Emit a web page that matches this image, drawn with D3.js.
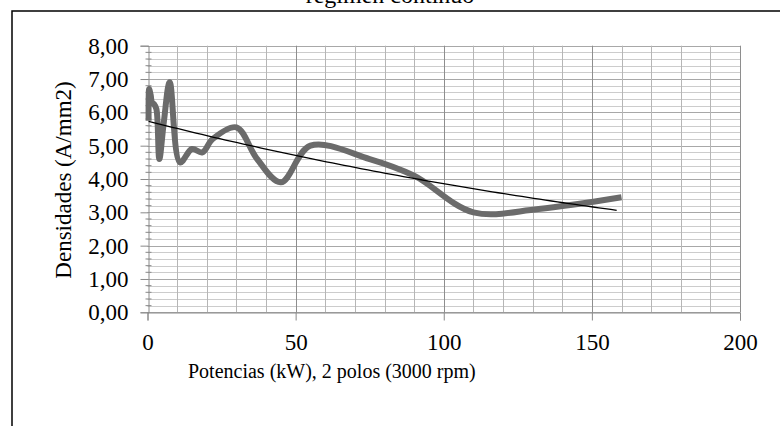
<!DOCTYPE html>
<html>
<head>
<meta charset="utf-8">
<script src="https://cdn.jsdelivr.net/npm/d3@7"></script>
<style>
  body { margin: 0; background: #fff; }
  svg { display: block; font-family: "Liberation Serif", "Times New Roman", serif; }
</style>
</head>
<body>
<svg width="780" height="426"></svg>
<script>
const width = 780, height = 426;
const svg = d3.select("svg");

// data (kW, A/mm2)
const powers = [0.37, 0.55, 0.75, 1.1, 1.5, 2.2, 3, 4, 5.5, 7.5, 11, 15, 18.5, 22, 30, 37, 45, 55, 75, 90, 110, 132, 160];
const densities = [5.75, 6.7, 6.65, 6.5, 6.3, 6.25, 6.1, 4.6, 5.7, 6.9, 4.5, 4.9, 4.8, 5.2, 5.55, 4.6, 3.9, 5.0, 4.6, 4.1, 3.0, 3.1, 3.45];
const xTicks = [0, 50, 100, 150, 200];
const yTicks = [0, 1, 2, 3, 4, 5, 6, 7, 8];
// exponential trendline y = a * e^(k x)
const trendA = 5.74, trendK = -0.00397;

const x = d3.scaleLinear().domain([0, 200]).range([147.5, 740]);
const y = d3.scaleLinear().domain([0, 8]).range([312.3, 45.7]);
const fmt = d => d3.format(".2f")(d).replace(".", ",");

// outer frame (runs off the page on right/bottom)
svg.append("rect").attr("x", 12).attr("y", 11).attr("width", 800).attr("height", 450)
  .attr("fill", "none").attr("stroke", "#000").attr("stroke-width", 1.5);

// title, cut off at top
svg.append("text").attr("x", 390).attr("y", 3).attr("text-anchor", "middle")
  .attr("font-size", 24).text("régimen continuo");

// grid
const grid = svg.append("g");
grid.selectAll(".hmin").data(d3.range(0, 8.01, 0.2).map(d => +d.toFixed(1)))
  .enter().append("line")
  .attr("x1", x(0)).attr("x2", x(200))
  .attr("y1", d => Math.round(y(d)) + 0.5).attr("y2", d => Math.round(y(d)) + 0.5)
  .attr("stroke", d => Number.isInteger(d) ? "#a8a8a8" : "#cccccc").attr("stroke-width", 1);
grid.selectAll(".vmin").data(d3.range(10, 201, 10))
  .enter().append("line")
  .attr("y1", y(0)).attr("y2", y(8))
  .attr("x1", d => Math.round(x(d)) + 0.5).attr("x2", d => Math.round(x(d)) + 0.5)
  .attr("stroke", d => d % 50 === 0 ? "#8e8e8e" : "#b6b6b6").attr("stroke-width", 1);

// y axis
const yAxis = svg.append("g").attr("transform", `translate(${Math.round(x(0)) + 0.5},0)`)
  .call(d3.axisLeft(y).tickValues(yTicks).tickFormat(fmt).tickSize(8).tickPadding(12));
yAxis.selectAll(".tick line").attr("stroke", "#8a8a8a");
yAxis.select(".domain").attr("stroke", "#8a8a8a");
yAxis.selectAll(".tick text").attr("font-size", 23).attr("fill", "#000")
  .attr("font-family", "Liberation Serif");
yAxis.selectAll(".minor").data(d3.range(0.2, 8, 0.2).filter(d => Math.abs(d - Math.round(d)) > 0.01))
  .enter().append("line").attr("x1", -3).attr("x2", 3)
  .attr("y1", d => y(d)).attr("y2", d => y(d)).attr("stroke", "#8a8a8a");

// x axis
const xAxis = svg.append("g").attr("transform", `translate(0,${Math.round(y(0)) + 0.5})`)
  .call(d3.axisBottom(x).tickValues(xTicks).tickFormat(d3.format("d")).tickSize(8).tickPadding(13));
xAxis.selectAll(".tick line").attr("stroke", "#8a8a8a");
xAxis.select(".domain").attr("stroke", "#8a8a8a");
xAxis.selectAll(".tick text").attr("font-size", 23).attr("fill", "#000")
  .attr("font-family", "Liberation Serif");

// axis titles
svg.append("text").attr("x", 188).attr("y", 378).attr("font-size", 20)
  .text("Potencias (kW), 2 polos (3000 rpm)");
svg.append("text").attr("transform", "translate(71,180) rotate(-90)")
  .attr("text-anchor", "middle").attr("font-size", 23).text("Densidades (A/mm2)");

// data line
const series = powers.map((p, i) => [p, densities[i]]);
svg.append("path").datum(series)
  .attr("fill", "none").attr("stroke", "#6b6b6b").attr("stroke-width", 6)
  .attr("stroke-linejoin", "round")
  .attr("d", d3.line().x(d => x(d[0])).y(d => y(d[1])).curve(d3.curveCatmullRom.alpha(0.5)));

// trendline
const trendX = d3.range(powers[0], powers[powers.length - 1] + 0.01, 2);
svg.append("path").datum(trendX)
  .attr("fill", "none").attr("stroke", "#000").attr("stroke-width", 1.3)
  .attr("d", d3.line().x(d => x(d)).y(d => y(trendA * Math.exp(trendK * d))));
</script>
</body>
</html>
